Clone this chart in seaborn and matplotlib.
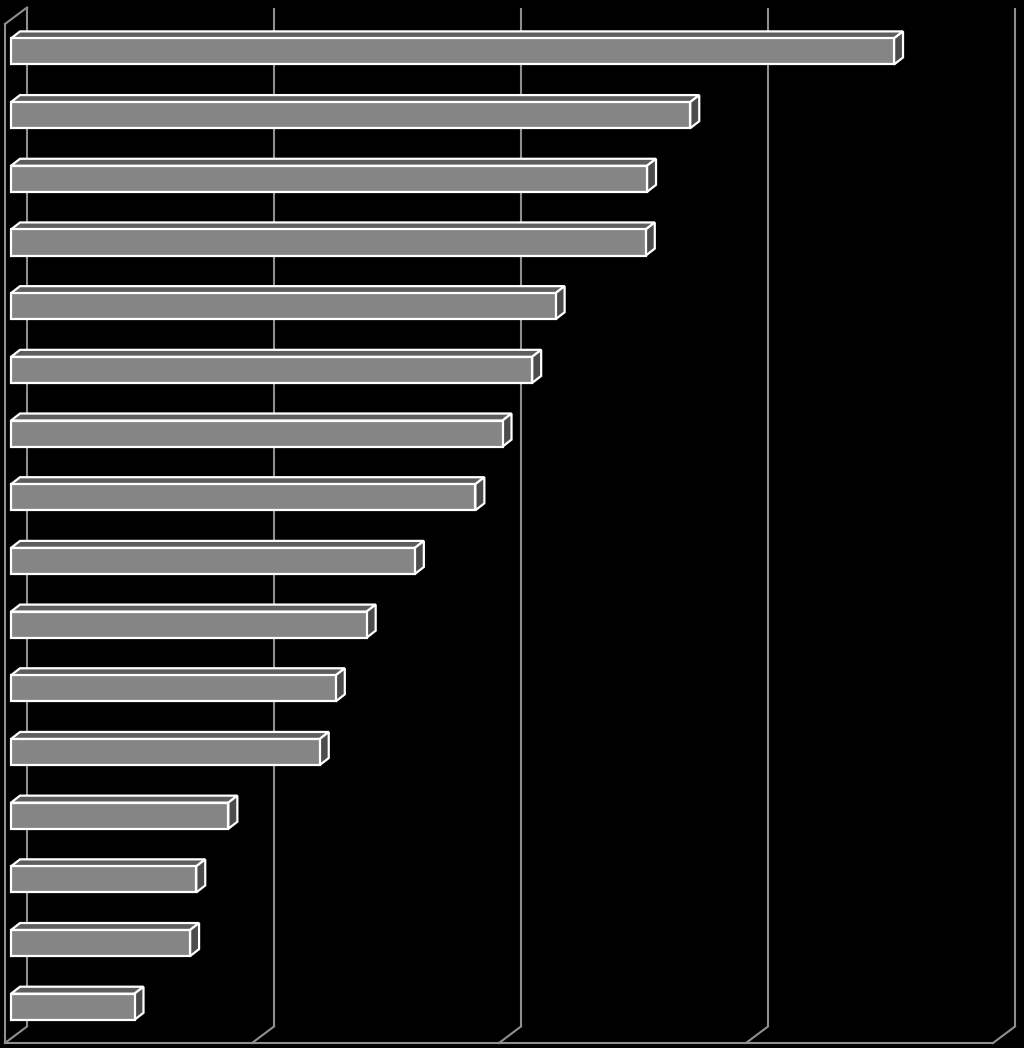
import numpy as np
import pandas as pd
import matplotlib
matplotlib.use("Agg")
import matplotlib.pyplot as plt
from matplotlib.patches import Polygon
import seaborn as sns

# ---- data ----
categories = [f"Item {i}" for i in range(1, 17)]
values = [35.75, 27.5, 25.75, 25.7, 22.05, 21.1, 19.9, 18.8,
          16.35, 14.4, 13.15, 12.5, 8.8, 7.5, 7.25, 5.0]
grid_ticks = [0, 10, 20, 30, 40]
x_max = 40

df = pd.DataFrame({"cat": categories, "val": values})

# ---- style ----
FACE = "#858585"
TOP = "#5e5e5e"
SIDE = "#4c4c4c"
EDGE = "white"
WALL = "#8f8f8f"

W, H, DPI = 1024, 1048, 100
fig = plt.figure(figsize=(W / DPI, H / DPI), dpi=DPI, facecolor="black")
# front plane of the 3-D box (pixels)
left_px, right_px, top_px, bot_px = 5, 993, 24, 1043
ax = fig.add_axes([left_px / W, 1 - bot_px / H,
                   (right_px - left_px) / W, (bot_px - top_px) / H])
ax.set_facecolor("black")

sns.barplot(data=df, x="val", y="cat", orient="h", color=FACE,
            saturation=1, width=0.41, edgecolor=EDGE, linewidth=1.6,
            ax=ax, zorder=3)
ax.set_xlim(0, x_max)
ax.set_ylim(len(categories) - 0.5, -0.5)

# data units per pixel
ax_w_px = right_px - left_px
ax_h_px = bot_px - top_px
sx = x_max / ax_w_px
sy = len(categories) / ax_h_px

def off(dx_px, dy_px):
    """pixel offset (right, up) -> data offset"""
    return dx_px * sx, -dy_px * sy

# depth vectors in pixels (right, up)
full_depth = off(22, 16.5)
bar_front = off(6, 4.4)
bar_back = off(15, 11.4)

# shift bars to their front plane and add top / side faces
for p in list(ax.patches):
    x0, y0 = p.get_x(), p.get_y()
    w, h = p.get_width(), p.get_height()
    x0 += bar_front[0]
    y0 += bar_front[1]
    p.set_x(x0)
    p.set_y(y0)
    x1 = x0 + w
    ytop = y0  # smaller y value = visually higher (inverted axis)
    ybot = y0 + h
    ddx = bar_back[0] - bar_front[0]
    ddy = bar_back[1] - bar_front[1]
    top_face = Polygon([(x0, ytop), (x1, ytop), (x1 + ddx, ytop + ddy),
                        (x0 + ddx, ytop + ddy)], closed=True,
                       facecolor=TOP, edgecolor=EDGE, linewidth=1.6,
                       zorder=2.5, clip_on=False, joinstyle="miter")
    side_face = Polygon([(x1, ytop), (x1, ybot), (x1 + ddx, ybot + ddy),
                         (x1 + ddx, ytop + ddy)], closed=True,
                        facecolor=SIDE, edgecolor=EDGE, linewidth=1.6,
                        zorder=2.5, clip_on=False, joinstyle="miter")
    ax.add_patch(top_face)
    ax.add_patch(side_face)

# walls: back-wall gridlines, floor diagonals, left wall
y_top, y_bot = -0.5, len(categories) - 0.5
dxd, dyd = full_depth
lw = 1.5
for t in grid_ticks:
    ax.plot([t + dxd, t + dxd], [y_bot + dyd, y_top + dyd], color=WALL,
            lw=lw, zorder=1, clip_on=False, solid_capstyle="butt")
    ax.plot([t, t + dxd], [y_bot, y_bot + dyd], color=WALL, lw=lw,
            zorder=1, clip_on=False)
ax.plot([0, x_max], [y_bot, y_bot], color=WALL, lw=lw, zorder=1, clip_on=False)
ax.plot([0, 0], [y_bot, y_top], color=WALL, lw=lw, zorder=1, clip_on=False)
ax.plot([0, dxd], [y_top, y_top + dyd], color=WALL, lw=lw, zorder=1, clip_on=False)

for s in ax.spines.values():
    s.set_visible(False)
ax.set_xticks([])
ax.set_yticks([])
ax.set_xlabel("")
ax.set_ylabel("")

fig.savefig("out.png", dpi=DPI, facecolor="black")
